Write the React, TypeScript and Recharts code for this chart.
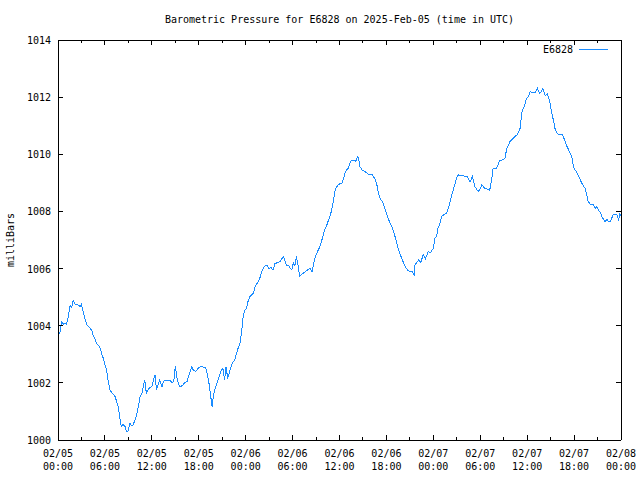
import React from 'react';
import { LineChart, Line, XAxis, YAxis, Legend } from 'recharts';

const hours = [
  0, 0.25, 0.45, 0.7, 0.9, 1.1, 1.3, 1.55, 1.75, 1.95, 2.2, 2.5, 2.8, 3.0, 3.25, 3.5, 3.7, 4.1, 4.3, 4.5,
  4.7, 4.95, 5.2, 5.4, 5.6, 5.8, 6.0, 6.2, 6.4, 6.65, 6.9, 7.1, 7.3, 7.5, 7.7, 7.9, 8.1, 8.3, 8.57, 8.75,
  8.95, 9.2, 9.4, 9.6, 9.85, 10.06, 10.3, 10.5, 10.7, 10.9, 11.1, 11.3, 11.6, 12.0, 12.2, 12.4, 12.6, 12.8, 13.0, 13.3,
  13.5, 13.7, 14.0, 14.3, 14.6, 14.8, 15.0, 15.2, 15.4, 15.6, 15.9, 16.2, 16.5, 16.8, 17.1, 17.3, 17.6, 17.9, 18.2, 18.6,
  18.9, 19.1, 19.3, 19.5, 19.7, 19.9, 20.1, 20.3, 20.6, 20.9, 21.1, 21.3, 21.5, 21.7, 22.0, 22.3, 22.6, 22.9, 23.1, 23.3,
  23.5, 23.7, 23.9, 24.1, 24.3, 24.55, 24.8, 25.0, 25.2, 25.4, 25.6, 25.85, 26.05, 26.3, 26.5, 26.7, 27.0, 27.2, 27.5, 27.75,
  28.0, 28.4, 28.8, 29.0, 29.2, 29.45, 29.7, 29.9, 30.1, 30.3, 30.5, 30.7, 30.9, 31.2, 31.6, 31.9, 32.2, 32.5, 32.7, 32.9,
  33.2, 33.5, 33.8, 34.1, 34.35, 34.6, 34.8, 35.0, 35.2, 35.4, 35.6, 35.85, 36.1, 36.3, 36.5, 36.7, 36.9, 37.1, 37.35, 37.55,
  37.9, 38.1, 38.3, 38.45, 38.6, 38.9, 39.3, 39.7, 40.2, 40.5, 40.75, 41.0, 41.2, 41.6, 41.8, 42.0, 42.3, 42.7, 43.1, 43.5,
  43.95, 44.4, 44.8, 45.3, 45.56, 45.65, 46.1, 46.4, 46.7, 47.0, 47.35, 47.6, 48.0, 48.2, 48.4, 48.6, 48.85, 49.05, 49.3, 49.7,
  50.1, 50.35, 50.6, 50.8, 51.0, 51.2, 51.7, 52.3, 52.7, 53.0, 53.3, 53.5, 53.75, 54.0, 54.2, 54.6, 55.0, 55.2, 55.45, 55.65,
  56.1, 56.5, 56.8, 57.15, 57.4, 57.8, 58.2, 58.7, 59.1, 59.3, 59.5, 59.7, 59.9, 60.1, 60.4, 60.7, 61.0, 61.3, 61.6, 61.8,
  62.0, 62.3, 62.6, 62.9, 63.1, 63.35, 63.55, 63.8, 64.0, 64.5, 64.8, 65.0, 65.4, 65.7, 65.9, 66.1, 66.3, 66.5, 66.8, 67.0,
  67.4, 67.6, 67.8, 68.1, 68.45, 68.7, 68.9, 69.1, 69.3, 69.6, 69.95, 70.2, 70.4, 70.6, 70.8, 71.0, 71.45, 71.7, 71.85, 72.0,
];

const pressure = [
  1003.7, 1003.75, 1004.15, 1004.05, 1004.1, 1004.05, 1004.3, 1004.7, 1004.65, 1004.88, 1004.75, 1004.75, 1004.67, 1004.75, 1004.45, 1004.2, 1004.03, 1003.91, 1003.85, 1003.67,
  1003.55, 1003.38, 1003.3, 1003.2, 1003.0, 1002.86, 1002.65, 1002.45, 1002.1, 1001.75, 1001.65, 1001.6, 1001.52, 1001.35, 1001.17, 1000.8, 1000.47, 1000.55, 1000.47, 1000.3,
  1000.3, 1000.58, 1000.5, 1000.53, 1000.7, 1000.88, 1001.2, 1001.52, 1001.6, 1001.87, 1002.1, 1001.63, 1001.8, 1001.87, 1002.1, 1002.28, 1001.75, 1001.95, 1002.1, 1001.87,
  1002.05, 1002.1, 1002.1, 1002.1, 1002.0, 1002.05, 1002.57, 1002.2, 1001.98, 1001.87, 1001.9, 1002.0, 1002.05, 1002.3, 1002.57, 1002.45, 1002.4, 1002.5, 1002.57, 1002.55,
  1002.52, 1002.3, 1002.0, 1001.6, 1001.17, 1001.6, 1001.8, 1001.98, 1002.2, 1002.45, 1002.5, 1002.1, 1002.57, 1002.15, 1002.45, 1002.7, 1002.8, 1003.1, 1003.27, 1003.4,
  1003.85, 1004.38, 1004.55, 1004.6, 1004.85, 1005.02, 1005.1, 1005.13, 1005.37, 1005.45, 1005.54, 1005.7, 1005.89, 1006.05, 1006.1, 1006.12, 1006.0, 1006.05, 1005.95, 1006.18,
  1006.2, 1006.24, 1006.42, 1006.3, 1006.12, 1006.12, 1006.01, 1005.95, 1006.2, 1006.1, 1006.42, 1006.1, 1005.72, 1005.8, 1005.89, 1005.95, 1006.01, 1005.89, 1006.2, 1006.42,
  1006.6, 1006.77, 1007.05, 1007.35, 1007.5, 1007.7, 1007.85, 1008.05, 1008.35, 1008.69, 1008.85, 1008.93, 1008.98, 1008.98, 1009.15, 1009.33, 1009.45, 1009.51, 1009.7, 1009.8,
  1009.8, 1009.75, 1009.92, 1009.85, 1009.57, 1009.45, 1009.39, 1009.3, 1009.28, 1009.15, 1008.98, 1008.6, 1008.46, 1008.28, 1008.1, 1007.93, 1007.7, 1007.47, 1007.12, 1006.71,
  1006.36, 1006.07, 1005.92, 1005.89, 1005.78, 1006.12, 1006.3, 1006.22, 1006.48, 1006.35, 1006.59, 1006.55, 1006.71, 1007.06, 1007.12, 1007.41, 1007.58, 1007.82, 1007.88, 1007.93,
  1008.28, 1008.58, 1008.8, 1008.98, 1009.2, 1009.28, 1009.25, 1009.22, 1009.04, 1009.22, 1008.87, 1008.8, 1008.69, 1008.8, 1008.93, 1008.8, 1008.78, 1008.73, 1009.1, 1009.51,
  1009.51, 1009.8, 1009.8, 1009.86, 1010.21, 1010.44, 1010.56, 1010.68, 1010.91, 1011.43, 1011.6, 1011.73, 1011.96, 1012.0, 1012.19, 1012.15, 1012.16, 1012.31, 1012.13, 1012.2,
  1012.31, 1012.05, 1012.11, 1011.84, 1011.5, 1011.2, 1010.91, 1010.75, 1010.68, 1010.68, 1010.5, 1010.33, 1010.1, 1009.92, 1009.6, 1009.45, 1009.4, 1009.28, 1009.1, 1008.98,
  1008.81, 1008.6, 1008.34, 1008.25, 1008.23, 1008.1, 1008.17, 1008.05, 1007.99, 1007.8, 1007.64, 1007.72, 1007.64, 1007.64, 1007.75, 1007.88, 1007.91, 1007.72, 1007.9, 1007.85,
];

const xTicks = [0, 3, 6, 9, 12, 15, 18, 21, 24, 27, 30, 33, 36, 39, 42, 45, 48, 51, 54, 57, 60, 63, 66, 69, 72];
const yTicks = [1000, 1002, 1004, 1006, 1008, 1010, 1012, 1014];
const seriesName = 'E6828';
const titleText = 'Barometric Pressure for E6828 on 2025-Feb-05 (time in UTC)';
const yLabelText = 'milliBars';

const data = hours.map((h, i) => ({ h, p: pressure[i] }));

const FONT = '"DejaVu Sans Mono", monospace';
const FS = 10;
const LINE_COLOR = '#1a8cff';
const MAJOR = 5;
const MINOR = 3;

const fmtDate = (h: number) => `02/${String(5 + Math.floor(h / 24)).padStart(2, '0')}`;
const fmtTime = (h: number) => `${String(h % 24).padStart(2, '0')}:00`;

const BottomTick = (props: any) => {
  const { x, y, payload } = props;
  const v = payload.value as number;
  const major = v % 6 === 0;
  return (
    <g>
      <line x1={x} x2={x} y1={y} y2={y - (major ? MAJOR : MINOR)} stroke="#000" strokeWidth={1} />
      {major && (
        <text x={x} y={y + 17} textAnchor="middle" fontFamily={FONT} fontSize={FS} fill="#000">
          {fmtDate(v)}
        </text>
      )}
      {major && (
        <text x={x} y={y + 30} textAnchor="middle" fontFamily={FONT} fontSize={FS} fill="#000">
          {fmtTime(v)}
        </text>
      )}
    </g>
  );
};

const TopTick = (props: any) => {
  const { x, y, payload } = props;
  const v = payload.value as number;
  const major = v % 6 === 0;
  return <line x1={x} x2={x} y1={y} y2={y + (major ? MAJOR : MINOR)} stroke="#000" strokeWidth={1} />;
};

const LeftTick = (props: any) => {
  const { x, y, payload } = props;
  return (
    <g>
      <line x1={x} x2={x + MAJOR} y1={y} y2={y} stroke="#000" strokeWidth={1} />
      <text x={x - 7} y={y + 4} textAnchor="end" fontFamily={FONT} fontSize={FS} fill="#000">
        {payload.value}
      </text>
    </g>
  );
};

const RightTick = (props: any) => {
  const { x, y } = props;
  return <line x1={x} x2={x - MAJOR} y1={y} y2={y} stroke="#000" strokeWidth={1} />;
};

const LegendContent = () => (
  <div style={{ display: 'flex', alignItems: 'center', fontFamily: FONT, fontSize: FS, color: '#000' }}>
    <span>{seriesName}</span>
    <span style={{ display: 'inline-block', width: 29, height: 0, borderTop: `1px solid ${LINE_COLOR}`, marginLeft: 6 }} />
  </div>
);

export default function App() {
  return (
    <div
      style={{
        position: 'absolute',
        left: 0,
        top: 0,
        width: 640,
        height: 480,
        background: '#fff',
        shapeRendering: 'crispEdges',
      } as any}
    >
      <LineChart width={640} height={480} data={data} margin={{ top: 0, right: 0, bottom: 0, left: 0 }}>
        <XAxis
          dataKey="h"
          type="number"
          domain={[0, 72]}
          allowDataOverflow
          ticks={xTicks}
          interval={0}
          height={40}
          tickSize={0}
          tickMargin={0}
          tick={BottomTick}
          tickLine={false}
          axisLine={{ stroke: '#000' }}
        />
        <XAxis
          xAxisId="top"
          orientation="top"
          dataKey="h"
          type="number"
          domain={[0, 72]}
          allowDataOverflow
          ticks={xTicks}
          interval={0}
          height={40}
          tickSize={0}
          tickMargin={0}
          tick={TopTick}
          tickLine={false}
          axisLine={{ stroke: '#000' }}
        />
        <YAxis
          type="number"
          domain={[1000, 1014]}
          allowDataOverflow
          ticks={yTicks}
          interval={0}
          width={58}
          tickSize={0}
          tickMargin={0}
          tick={LeftTick}
          tickLine={false}
          axisLine={{ stroke: '#000' }}
        />
        <YAxis
          yAxisId="right"
          orientation="right"
          type="number"
          domain={[1000, 1014]}
          allowDataOverflow
          ticks={yTicks}
          interval={0}
          width={19}
          tickSize={0}
          tickMargin={0}
          tick={RightTick}
          tickLine={false}
          axisLine={{ stroke: '#000' }}
        />
        <Legend
          layout="horizontal"
          align="center"
          verticalAlign="middle"
          content={LegendContent}
          wrapperStyle={{ position: 'absolute', left: 543, top: 44, width: 80, height: 14 }}
        />
        <Line
          type="linear"
          dataKey="p"
          name={seriesName}
          stroke={LINE_COLOR}
          strokeWidth={1}
          dot={false}
          isAnimationActive={false}
        />
      </LineChart>
      <svg
        width={640}
        height={480}
        style={{ position: 'absolute', left: 0, top: 0, pointerEvents: 'none' }}
      >
        <text x={339.5} y={23} textAnchor="middle" fontFamily={FONT} fontSize={FS} fill="#000">
          {titleText}
        </text>
        <text
          x={14}
          y={240}
          transform="rotate(-90 14 240)"
          textAnchor="middle"
          fontFamily={FONT}
          fontSize={FS}
          fill="#000"
        >
          {yLabelText}
        </text>
      </svg>
    </div>
  );
}
